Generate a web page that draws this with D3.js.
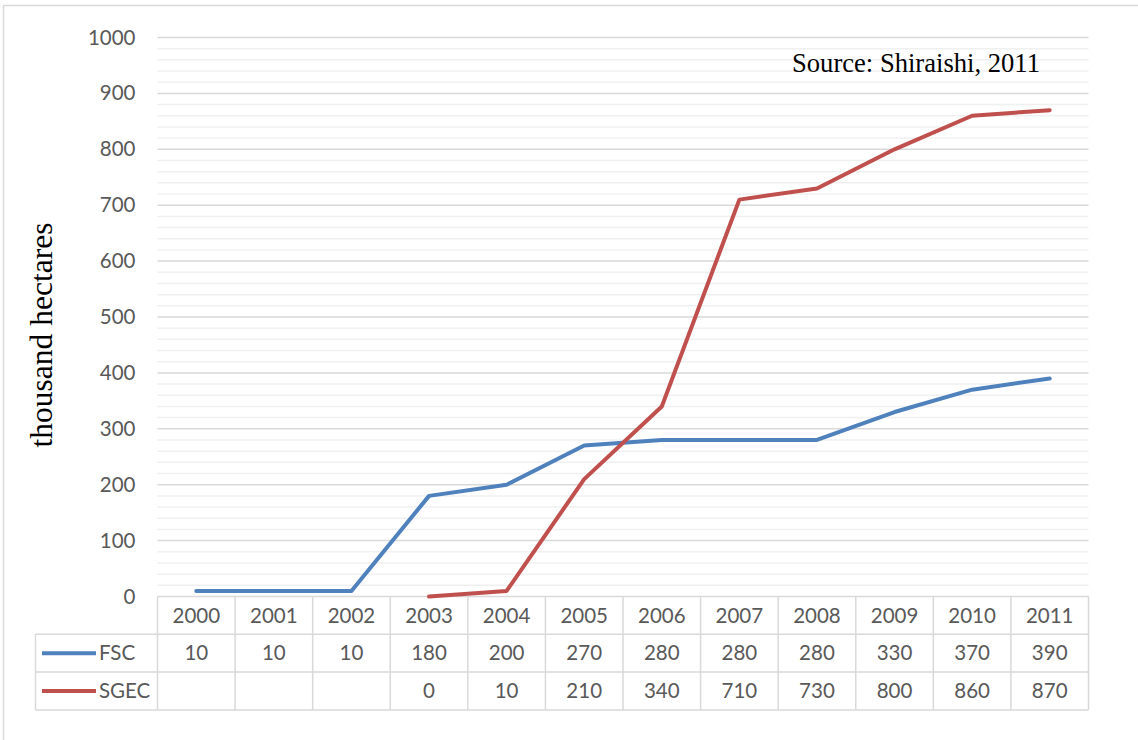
<!DOCTYPE html>
<html>
<head>
<meta charset="utf-8">
<script src="https://cdn.jsdelivr.net/npm/d3@7"></script>
<style>
  html, body { margin: 0; padding: 0; background: #fff; }
  svg { display: block; }
</style>
</head>
<body>
<svg id="chart" width="1138" height="740"></svg>
<script>
const years = ["2000","2001","2002","2003","2004","2005","2006","2007","2008","2009","2010","2011"];
const fsc = [10,10,10,180,200,270,280,280,280,330,370,390];
const sgec = [null,null,null,0,10,210,340,710,730,800,860,870];
const seriesNames = ["FSC","SGEC"];
const seriesColors = ["#4f81bd","#c0504d"];
const yTicks = [0,100,200,300,400,500,600,700,800,900,1000];
const minorTicks = d3.range(0, 1001, 20);
const yTitle = "thousand hectares";
const sourceNote = "Source: Shiraishi, 2011";

(function draw() {
const svg = d3.select("#chart");
const W = 1138, H = 740;
const pLeft = 157.5, pRight = 1088.5, pTop = 37.5, pBottom = 596.5;
const rowH = 37.8;
const legendLeft = 35.5;
const textColor = "#595959";
const fontSans = "Lato, 'Open Sans', sans-serif";
const fontSerif = "'Liberation Serif', 'Times New Roman', serif";

svg.append("rect").attr("x", 3.5).attr("y", 5.5).attr("width", W).attr("height", H)
  .attr("fill", "none").attr("stroke", "#d9d9d9").attr("stroke-width", 1.5);

const x = d3.scaleBand().domain(years).range([pLeft, pRight]).padding(0);
const y = d3.scaleLinear().domain([0, 1000]).range([pBottom, pTop]);

svg.append("g").selectAll("line").data(minorTicks.filter(v => v % 100 !== 0)).join("line")
  .attr("x1", pLeft).attr("x2", pRight)
  .attr("y1", d => y(d)).attr("y2", d => y(d))
  .attr("stroke", "#f0f0f0").attr("stroke-width", 1.5);

svg.append("g").selectAll("line").data(yTicks).join("line")
  .attr("x1", pLeft).attr("x2", pRight)
  .attr("y1", d => y(d)).attr("y2", d => y(d))
  .attr("stroke", "#d9d9d9").attr("stroke-width", 1.5);

const yAxis = d3.axisLeft(y).tickValues(yTicks).tickFormat(d3.format("d")).tickSize(0).tickPadding(22);
const gy = svg.append("g").attr("transform", `translate(${pLeft},0)`).call(yAxis);
gy.select(".domain").remove();
gy.selectAll("text").attr("fill", textColor).style("font-family", fontSans).style("font-size", "20.5px");

svg.append("text")
  .attr("transform", `translate(52,335) rotate(-90)`)
  .attr("text-anchor", "middle")
  .style("font-family", fontSerif).style("font-size", "31.5px").attr("fill", "#000")
  .text(yTitle);

svg.append("text").attr("x", 792).attr("y", 72)
  .style("font-family", fontSerif).style("font-size", "26.6px").attr("fill", "#000")
  .text(sourceNote);

const tableColor = "#d9d9d9";
const tbl = svg.append("g");
const rowsY = [pBottom, pBottom + rowH, pBottom + 2 * rowH, pBottom + 3 * rowH];
[1, 2, 3].forEach(r => {
  tbl.append("line").attr("x1", legendLeft).attr("x2", pRight)
    .attr("y1", rowsY[r]).attr("y2", rowsY[r])
    .attr("stroke", tableColor).attr("stroke-width", 1.5);
});
const colEdges = years.map(d => x(d)).concat([pRight]);
tbl.selectAll("line.v").data(colEdges).join("line").attr("class", "v")
  .attr("x1", d => d).attr("x2", d => d).attr("y1", rowsY[0]).attr("y2", rowsY[3])
  .attr("stroke", tableColor).attr("stroke-width", 1.5);
tbl.append("line").attr("x1", legendLeft).attr("x2", legendLeft).attr("y1", rowsY[1]).attr("y2", rowsY[3])
  .attr("stroke", tableColor).attr("stroke-width", 1.5);

tbl.selectAll("text.yr").data(years).join("text").attr("class", "yr")
  .attr("x", d => x(d) + x.bandwidth() / 2).attr("y", (rowsY[0] + rowsY[1]) / 2)
  .attr("dy", "0.35em").attr("text-anchor", "middle")
  .style("font-family", fontSans).style("font-size", "20.5px").attr("fill", textColor)
  .text(d => d);

const seriesData = [fsc, sgec];
seriesData.forEach((vals, si) => {
  const cy = (rowsY[si + 1] + rowsY[si + 2]) / 2;
  tbl.append("line").attr("x1", 42).attr("x2", 96).attr("y1", cy).attr("y2", cy)
    .attr("stroke", seriesColors[si]).attr("stroke-width", 4);
  tbl.append("text").attr("x", 99).attr("y", cy).attr("dy", "0.35em")
    .style("font-family", fontSans).style("font-size", "20.5px").attr("fill", textColor)
    .text(seriesNames[si]);
  tbl.selectAll("text.v" + si).data(vals.map((v, i) => ({v, yr: years[i]})).filter(d => d.v !== null))
    .join("text").attr("class", "v" + si)
    .attr("x", d => x(d.yr) + x.bandwidth() / 2).attr("y", cy).attr("dy", "0.35em")
    .attr("text-anchor", "middle")
    .style("font-family", fontSans).style("font-size", "20.5px").attr("fill", textColor)
    .text(d => d.v);
});

const line = d3.line()
  .defined(d => d.v !== null)
  .x(d => x(d.yr) + x.bandwidth() / 2)
  .y(d => y(d.v));
seriesData.forEach((vals, si) => {
  svg.append("path")
    .datum(vals.map((v, i) => ({v, yr: years[i]})))
    .attr("d", line)
    .attr("fill", "none")
    .attr("stroke", seriesColors[si])
    .attr("stroke-width", 4)
    .attr("stroke-linejoin", "round")
    .attr("stroke-linecap", "round");
});
})();
</script>
</body>
</html>
